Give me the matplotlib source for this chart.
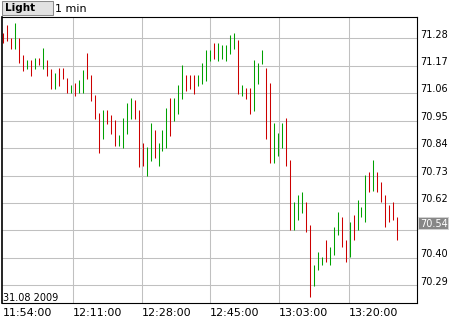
import matplotlib
matplotlib.use("Agg")
import matplotlib.pyplot as plt
import matplotlib.transforms as mtransforms
from matplotlib.patches import Rectangle

# 1-minute bars, 11:54 .. 13:33, 31.08.2009
highs = [71.300, 71.333, 71.280, 71.340, 71.280, 71.213, 71.193, 71.193, 71.200, 71.200,
         71.240, 71.193, 71.159, 71.140, 71.160, 71.160, 71.120, 71.093, 71.100, 71.113,
         71.153, 71.220, 71.133, 71.053, 70.980, 70.993, 70.993, 70.973, 70.953, 70.893,
         70.960, 71.020, 71.040, 71.033, 70.993, 70.859, 70.846, 70.940, 70.913, 70.859,
         70.913, 71.000, 71.040, 71.040, 71.093, 71.173, 71.133, 71.133, 71.133, 71.133,
         71.180, 71.233, 71.233, 71.260, 71.260, 71.253, 71.253, 71.293, 71.300, 71.273,
         71.093, 71.080, 71.080, 71.193, 71.180, 71.233, 71.160, 71.100, 70.940, 70.900,
         70.940, 70.960, 70.793, 70.623, 70.653, 70.663, 70.623, 70.532, 70.372, 70.423,
         70.403, 70.472, 70.443, 70.523, 70.583, 70.563, 70.472, 70.543, 70.573, 70.633,
         70.603, 70.733, 70.743, 70.793, 70.743, 70.703, 70.653, 70.613, 70.623, 70.563]
lows = [71.260, 71.271, 71.239, 71.239, 71.180, 71.151, 71.159, 71.130, 71.159, 71.172,
        71.159, 71.130, 71.078, 71.078, 71.090, 71.118, 71.061, 71.061, 71.050, 71.061,
        71.061, 71.118, 71.030, 70.957, 70.822, 70.878, 70.938, 70.898, 70.850, 70.850,
        70.842, 70.898, 70.957, 70.957, 70.763, 70.770, 70.730, 70.790, 70.802, 70.770,
        70.830, 70.842, 70.890, 70.950, 70.977, 71.038, 71.070, 71.078, 71.058, 71.090,
        71.098, 71.110, 71.191, 71.199, 71.191, 71.199, 71.191, 71.219, 71.239, 71.058,
        71.050, 71.038, 70.977, 70.990, 71.098, 71.179, 70.878, 70.782, 70.782, 70.810,
        70.842, 70.770, 70.510, 70.510, 70.550, 70.582, 70.502, 70.243, 70.289, 70.350,
        70.370, 70.383, 70.370, 70.410, 70.490, 70.443, 70.383, 70.403, 70.470, 70.510,
        70.563, 70.543, 70.663, 70.670, 70.663, 70.623, 70.523, 70.543, 70.550, 70.470]
# g = up bar, r = down bar
direction = ("rrrgrrgrgr" "grrgrrrgrg" "grrrrgrrrg" "gggrrrggrg" "ggrgggrrrg"
             "gggrgggggr" "grrgggrrgg" "grrgggrrgg" "grgggrrgrg" "ggrgrrrrrr")

price_ticks = [70.29, 70.40, 70.51, 70.62, 70.73, 70.84, 70.95, 71.06, 71.17, 71.28]
time_labels = ["11:54:00", "12:11:00", "12:28:00", "12:45:00", "13:03:00", "13:20:00"]
time_pos = [-0.2, 17.39, 34.77, 52.01, 69.35, 86.78]  # bar index where each label sits
last_price = 70.54
date_label = "31.08 2009"
interval = "1 min"
style_name = "Light"

W, H = 460, 320
fig = plt.figure(figsize=(W / 100, H / 100), dpi=100)
fig.patch.set_facecolor("white")
ax = fig.add_axes([2.5 / W, 16.7 / H, 414.2 / W, 286.6 / H])
ax.set_xlim(-0.2, 103.87)
ax.set_ylim(70.218, 71.367)
ax.set_xticks([])
ax.set_yticks([])
for side, sp in ax.spines.items():
    sp.set_color("black")
    sp.set_linewidth(1.2 if side == "left" else 0.8)

# grid
grid_kw = dict(color="#c0c0c0", linewidth=0.75, zorder=1)
for p in price_ticks:
    ax.axhline(p, **grid_kw)
for t in time_pos[1:]:
    ax.axvline(t, **grid_kw)

# high-low bars
x = list(range(len(highs)))
colors = ["#00a000" if d == "g" else "#cc0000" for d in direction]
ax.vlines(x, lows, highs, colors=colors, linewidth=0.75, zorder=3)

# price labels on the right (the one under the current-price box is hidden)
lab_tr = mtransforms.blended_transform_factory(ax.transAxes, ax.transData)
off = mtransforms.ScaledTranslation(3.3 / 100, 0.8 / 100, fig.dpi_scale_trans)
for p in price_ticks:
    if abs(p - last_price) < 0.05:
        continue
    ax.text(1.0, p, f"{p:.2f}", transform=lab_tr + off, ha="left", va="baseline",
            fontsize=7, color="black", clip_on=False)

# current price box
ax_px, py = lab_tr.transform((1.0, last_price))
ax.add_patch(Rectangle((ax_px + 1.6, py - 5.85), 29.4, 11.7,
                       transform=mtransforms.IdentityTransform(),
                       facecolor="#868686", edgecolor="#d0d0d0", linewidth=0.75,
                       clip_on=False, zorder=5))
ax.text(1.0, last_price, f"{last_price:.2f}",
        transform=lab_tr + mtransforms.ScaledTranslation(3.3 / 100, 0, fig.dpi_scale_trans),
        ha="left", va="center_baseline", fontsize=7, color="white", clip_on=False, zorder=6)

# time labels below
t_tr = mtransforms.blended_transform_factory(ax.transData, ax.transAxes)
t_off = mtransforms.ScaledTranslation(0, -12.4 / 100, fig.dpi_scale_trans)
for t, lab in zip(time_pos, time_labels):
    ax.text(t, 0, lab, transform=t_tr + t_off, ha="left", va="baseline",
            fontsize=8, color="black", clip_on=False)

ax.text(0.0, 0.0, date_label,
        transform=ax.transAxes + mtransforms.ScaledTranslation(0.3 / 100, 2.6 / 100, fig.dpi_scale_trans),
        ha="left", va="baseline", fontsize=7, color="black", zorder=4)

# header: style button + interval
fig.patches.append(Rectangle((2 / W, (H - 15.3) / H), 50.7 / W, 14 / H, transform=fig.transFigure,
                             facecolor="#e2e2e2", edgecolor="#8a8a8a", linewidth=0.75))
fig.text(4.7 / W, (H - 11.3) / H, style_name, fontsize=7.5, fontweight="bold",
         ha="left", va="baseline")
fig.text(55.3 / W, (H - 12) / H, interval, fontsize=8, ha="left", va="baseline")

fig.savefig("out.png", dpi=100)
